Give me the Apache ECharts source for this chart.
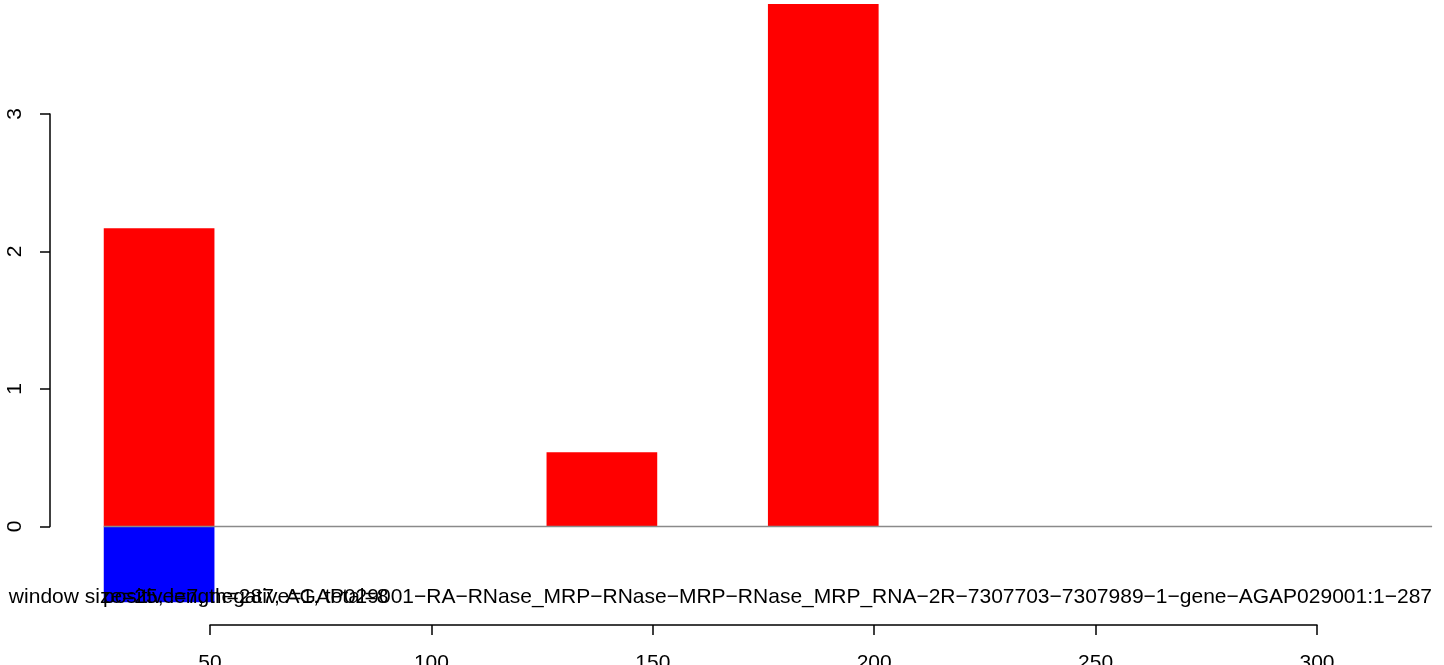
<!DOCTYPE html>
<html>
<head>
<meta charset="utf-8">
<script src="https://cdn.jsdelivr.net/npm/echarts@6/dist/echarts.min.js"></script>
<style>html,body{margin:0;padding:0;background:#fff}#c{width:1444px;height:665px}</style>
</head>
<body>
<div id="c"></div>
<script>
// ---- data ----
const binStarts = [26, 51, 76, 101, 126, 151, 176, 201, 226, 251, 276, 301];
const binWidth = 25;
const positiveValues = [2.17, 0, 0, 0, 0.54, 0, 3.80, 0, 0, 0, 0, 0];
const negativeValues = [-0.55, 0, 0, 0, 0, 0, 0, 0, 0, 0, 0, 0];
const xTicks = [50, 100, 150, 200, 250, 300];
const yTicks = [0, 1, 2, 3];
const zeroLine = [[26, 0], [326, 0]];
const titleText = "window size=25, length=287, AGAP029001\u2212RA\u2212RNase_MRP\u2212RNase\u2212MRP\u2212RNase_MRP_RNA\u22122R\u22127307703\u22127307989\u22121\u2212gene\u2212AGAP029001:1\u2212287";
const countText = "positive=7, negative=1, total=8";

const FONT = "'Liberation Sans', Arial, Helvetica, sans-serif";
const FS = 21;
const chart = echarts.init(document.getElementById('c'), null, {renderer: 'canvas'});

function rectItem(color) {
  return function (params, api) {
    const x0 = api.value(0), v = api.value(1);
    const p1 = api.coord([x0, 0]);
    const p2 = api.coord([x0 + binWidth, v]);
    return {
      type: 'rect',
      shape: {x: p1[0], y: Math.min(p1[1], p2[1]), width: p2[0] - p1[0], height: Math.abs(p2[1] - p1[1])},
      style: {fill: color}
    };
  };
}

const posData = binStarts.map((s, i) => [s, positiveValues[i]]).filter(d => d[1] !== 0);
const negData = binStarts.map((s, i) => [s, negativeValues[i]]).filter(d => d[1] !== 0);

chart.setOption({
  animation: false,
  backgroundColor: '#fff',
  grid: [
    {left: 94.9, width: 1337.2, top: 4, height: 605, outerBoundsMode: 'none', containLabel: false},
    {left: 210, width: 1107, top: 600, height: 25, outerBoundsMode: 'none', containLabel: false},
    {left: 50, width: 40, top: 114, height: 412.5, outerBoundsMode: 'none', containLabel: false}
  ],
  xAxis: [
    {gridIndex: 0, type: 'value', min: 24, max: 326, show: false},
    {gridIndex: 1, type: 'value', min: 50, max: 300, interval: 50, position: 'bottom',
      axisLine: {show: true, lineStyle: {color: '#000', width: 1.5}},
      axisTick: {show: true, inside: false, length: 10, lineStyle: {color: '#000', width: 1.5}},
      axisLabel: {show: true, margin: 28, color: '#000', fontSize: FS, fontFamily: FONT, showMinLabel: true, showMaxLabel: true, hideOverlap: false},
      splitLine: {show: false}},
    {gridIndex: 2, type: 'value', show: false}
  ],
  yAxis: [
    {gridIndex: 0, type: 'value', min: -0.6, max: 3.8, show: false},
    {gridIndex: 1, type: 'value', show: false},
    {gridIndex: 2, type: 'value', min: 0, max: 3, interval: 1, position: 'left',
      axisLine: {show: true, lineStyle: {color: '#000', width: 1.5}},
      axisTick: {show: true, inside: false, length: 10, lineStyle: {color: '#000', width: 1.5}},
      axisLabel: {show: true, rotate: 90, margin: 24, color: '#000', fontSize: FS, fontFamily: FONT},
      splitLine: {show: false}}
  ],
  series: [
    {type: 'custom', xAxisIndex: 0, yAxisIndex: 0, renderItem: rectItem('#ff0000'), data: posData, clip: false},
    {type: 'custom', xAxisIndex: 0, yAxisIndex: 0, renderItem: rectItem('#0000ff'), data: negData, clip: false},
    {type: 'line', xAxisIndex: 0, yAxisIndex: 0, data: zeroLine, symbol: 'none',
      lineStyle: {color: '#8a8a8a', width: 1.5}, silent: true}
  ],
  graphic: [
    {type: 'text', right: 12, top: 587, z: 100, style: {text: titleText, font: FS + 'px ' + FONT, fill: '#000'}},
    {type: 'text', left: 103, top: 587, z: 100, style: {text: countText, font: FS + 'px ' + FONT, fill: '#000'}}
  ]
});
</script>
</body>
</html>
